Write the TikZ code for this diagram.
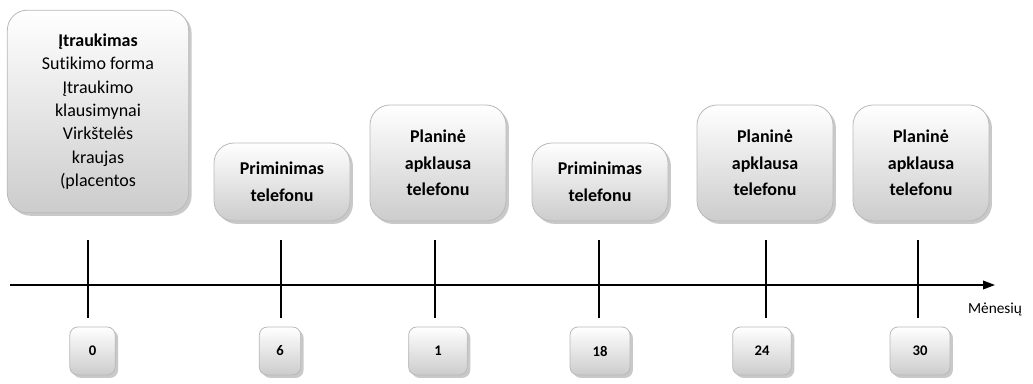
\documentclass[tikz,border=0pt]{standalone}
\usepackage{fontspec}
\setmainfont[Ligatures = NoCommon]{Carlito}
\usetikzlibrary{shadows, arrows.meta}

\tikzset{
	boxlook/.style = {draw = gray!55, line width = 0.6pt, top color = white, bottom color = gray!40,
		drop shadow = {shadow xshift = 2.2pt, shadow yshift = -2.2pt, fill = gray!85, opacity = 0.5}},
	event/.style = {boxlook, rounded corners = 15pt, align = center, inner sep = 0pt,
		minimum width = 102pt, font = \bfseries\fontsize{13.5}{20}\selectfont},
	month/.style = {boxlook, rounded corners = 6pt, inner sep = 0pt, minimum height = 36pt,
		font = \bfseries\fontsize{11}{13}\selectfont},
}

\begin{document}
\begin{tikzpicture}[x = 0.75pt, y = -0.75pt]
		\useasboundingbox (0,0) rectangle (1033,383);
		\def\ya{240};
		\def\yb{318};
		
		% events above the axis
		\node [event, font = \fontsize{13.5}{17.5}\selectfont, minimum width = 136pt, minimum height = 152pt]
			(inclusion) at (98,111.5) {\textbf{Įtraukimas}\\Sutikimo forma\\Įtraukimo\\klausimynai\\Virkštelės\\kraujas\\(placentos};
		\node [event, minimum height = 58.5pt] (remind6) at (282,182) {Priminimas\\telefonu};
		\node [event, minimum height = 87pt] (survey12) at (438,163) {Planinė\\apklausa\\telefonu};
		\node [event, minimum height = 58.5pt] (remind18) at (600,182) {Priminimas\\telefonu};
		\node [event, minimum height = 87pt] (survey24) at (765,163) {Planinė\\apklausa\\telefonu};
		\node [event, minimum height = 87pt] (survey30) at (921,163) {Planinė\\apklausa\\telefonu};
		
		% time axis
		\coordinate (start) at (10,285);
		\coordinate (end) at (995,285);
		\draw [line width = 1.1pt, -{Triangle[length = 9pt, width = 6.5pt]}] (start) -- (end);
		\node [inner sep = 0pt, font = \fontsize{11.5}{14}\selectfont] (unit) at (995,309) {Mėnesių};
		
		\foreach \x/\n in {88/t0, 281/t6, 435/t12, 599/t18, 766/t24, 918/t30} {
			\coordinate (\n a) at (\x,\ya);
			\coordinate (\n b) at (\x,\yb);
			\draw [line width = 0.8pt] (\n a) -- (\n b);
		}
		
		% month labels below the axis
		\node [month, minimum width = 34pt] (m0) at (92.5,351) {0};
		\node [month, minimum width = 31pt] (m6) at (280,351) {6};
		\node [month, minimum width = 44pt] (m12) at (438,351) {1};
		\node [month, minimum width = 45pt] (m18) at (600,351) {18};
		\node [month, minimum width = 44pt] (m24) at (762,351) {24};
		\node [month, minimum width = 45pt] (m30) at (920,351) {30};
	\end{tikzpicture}
\end{document}
